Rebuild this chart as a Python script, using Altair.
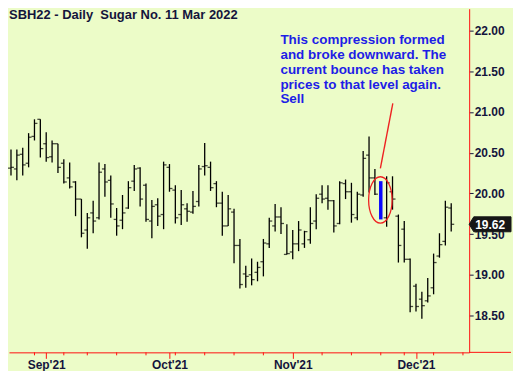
import altair as alt
import pandas as pd

# ---- data ----
# trading days from Aug 24 2021 to Dec 9 2021, one bar per day
opens = [20.31,20.30,20.48,20.37,20.70,20.91,20.61,20.45,20.61,20.37,
         20.19,20.14,19.93,19.55,19.76,19.70,20.30,20.16,19.68,19.67,
         19.82,20.15,20.31,20.10,19.66,19.86,19.74,20.32,20.04,19.74,
         19.81,19.77,19.90,20.33,20.32,20.12,19.88,19.60,19.77,19.36,
         19.01,19.00,19.03,19.16,19.38,19.60,19.71,19.25,19.28,19.38,
         19.38,19.43,19.66,19.99,19.94,19.91,19.63,20.12,20.02,19.70,
         19.98,20.47,20.19,20.00,19.70,20.02,19.72,19.56,19.19,18.86,
         18.70,18.68,18.84,19.23,19.41,19.82]
highs = [20.54,20.54,20.56,20.74,20.91,20.91,20.75,20.65,20.61,20.42,
         20.38,20.15,19.93,19.76,19.91,20.38,20.36,20.22,19.82,19.98,
         20.15,20.35,20.32,20.12,19.92,19.94,20.39,20.36,20.10,20.04,
         19.88,20.03,20.35,20.62,20.39,20.15,20.02,19.98,19.81,19.44,
         19.11,19.20,19.16,19.44,19.70,19.87,19.83,19.62,19.55,19.66,
         19.54,19.83,19.99,20.10,20.10,19.92,20.15,20.17,20.13,20.02,
         20.52,20.70,20.30,20.15,20.21,20.21,19.74,19.66,19.20,18.89,
         18.79,18.96,19.26,19.51,19.91,19.88]
lows = [20.22,20.16,20.22,20.32,20.65,20.44,20.39,20.38,20.25,20.12,
        20.06,19.72,19.46,19.32,19.51,19.68,19.96,19.70,19.48,19.56,
        19.81,20.03,19.84,19.65,19.45,19.60,19.56,20.02,19.63,19.61,
        19.65,19.75,19.84,20.22,20.03,19.83,19.48,19.60,19.14,18.83,
        18.84,18.87,18.92,18.98,19.33,19.53,19.50,19.25,19.19,19.29,
        19.33,19.38,19.56,19.88,19.80,19.52,19.62,19.93,19.64,19.67,
        19.96,20.01,19.98,19.68,19.59,19.80,19.15,19.15,18.54,18.55,
        18.46,18.66,18.76,19.21,19.36,19.53]
closes = [20.32,20.47,20.35,20.69,20.86,20.55,20.44,20.61,20.32,20.14,
          20.08,19.93,19.51,19.70,19.66,20.26,20.14,19.87,19.60,19.76,
          20.07,20.30,19.93,19.68,19.84,19.72,20.35,20.06,19.70,19.86,
          19.78,19.84,20.30,20.34,20.07,19.88,19.60,19.81,19.36,18.88,
          18.98,18.94,19.09,19.39,19.66,19.71,19.63,19.26,19.38,19.55,
          19.53,19.63,19.94,19.93,19.91,19.60,20.13,20.02,19.74,19.99,
          20.43,20.19,19.99,19.72,20.13,19.93,19.36,19.19,18.61,18.61,
          18.62,18.74,19.15,19.37,19.83,19.62]
highlight_bar = 63  # the compression bar drawn in blue

month_idx = [6, 27, 48, 69]
month_labels = ["Sep'21", "Oct'21", "Nov'21", "Dec'21"]
week_idx = [4, 9, 13, 18, 23, 28, 33, 38, 43, 53, 58, 63, 67, 72, 77]
price_ticks = [18.5, 19.0, 19.5, 20.0, 20.5, 21.0, 21.5, 22.0]
last_price = 19.62

title_text = "SBH22 - Daily\u00a0 Sugar No. 11 Mar 2022"
note_lines = ["This compression formed", "and broke downward. The",
              "current bounce has taken", "prices to that level again.", "Sell"]
note_pos = [45.9, 21.83]
pointer = [65.05, 21.106, 62.93, 20.307]
ellipse_center = [62.93, 19.919]

# ---- layout ----
W, H = 462, 345
BG = "#ecfcc8"
NAVY = "#14143c"
RED = "#ff1010"
FONT = "Liberation Sans"

df = pd.DataFrame({"i": list(range(len(opens))), "open": opens, "high": highs,
                   "low": lows, "close": closes})
black = df[df["i"] != highlight_bar]
blue = df[df["i"] == highlight_bar]

xscale = alt.Scale(domain=[-0.34, 78.06], nice=False, zero=False)
yscale = alt.Scale(domain=[18.0465, 22.269], nice=False, zero=False)
label_expr = ("[" + ",".join('"%s"' % s for s in month_labels) + "][indexof(["
              + ",".join(str(v) for v in month_idx) + "], datum.value)]")
xaxis = alt.Axis(values=month_idx, labelExpr=label_expr, title=None, grid=False,
                 domainColor=RED, tickColor=RED, tickSize=6, labelPadding=1,
                 labelFlush=False, labelFont=FONT, labelFontWeight="bold",
                 labelFontSize=12, labelColor=NAVY)
yaxis = alt.Axis(values=price_ticks, format=".2f", orient="right", title=None,
                 grid=False, domainColor=RED, tickColor=NAVY, tickSize=4,
                 labelPadding=1, labelFont=FONT, labelFontWeight="bold",
                 labelFontSize=12, labelColor=NAVY)


def X(f):
    return alt.X(f, type="quantitative", scale=xscale, axis=xaxis)


def Y(f):
    return alt.Y(f, type="quantitative", scale=yscale, axis=yaxis)


bars = alt.Chart(black).mark_rule(color="black", strokeWidth=1.3).encode(
    x=X("i"), y=Y("low"), y2="high")
open_t = alt.Chart(black).mark_tick(orient="horizontal", size=3, thickness=1.3,
                                    color="black", xOffset=-1.5).encode(
    x=X("i"), y=Y("open"))
close_t = alt.Chart(black).mark_tick(orient="horizontal", size=3, thickness=1.3,
                                     color="black", xOffset=1.5).encode(
    x=X("i"), y=Y("close"))
blue_bar = alt.Chart(blue).mark_rule(color="#0a0aff", strokeWidth=3.5).encode(
    x=X("i"), y=Y("low"), y2="high")

minor = alt.Chart(pd.DataFrame({"w": week_idx})).mark_rule(
    color=RED, strokeWidth=1).encode(x=X("w"), y=alt.value(H), y2=alt.value(H + 3))
ext_axis = alt.Chart(pd.DataFrame({"a": [0]})).mark_rule(
    color=RED, strokeWidth=1).encode(x=alt.value(W), x2=alt.value(W + 42), y=alt.value(H))

ell_path = "M -0.506 0 A 0.506 1 0 1 0 0.506 0 A 0.506 1 0 1 0 -0.506 0 Z"
ellipse = alt.Chart(pd.DataFrame({"x": [ellipse_center[0]], "y": [ellipse_center[1]]})).mark_point(
    shape=ell_path, size=2172, filled=False, stroke="#ee2222", strokeWidth=1.3, opacity=1
).encode(x=X("x"), y=Y("y"))

line_df = pd.DataFrame({"x": [pointer[0]], "y": [pointer[1]],
                        "x2": [pointer[2]], "y2": [pointer[3]]})
pointer_line = alt.Chart(line_df).mark_rule(color="#ee2222", strokeWidth=1.4).encode(
    x=X("x"), y=Y("y"), x2="x2", y2="y2")

note = alt.Chart(pd.DataFrame({"x": [note_pos[0]], "y": [note_pos[1]],
                               "t": ["\n".join(note_lines)]})).mark_text(
    align="left", baseline="alphabetic", lineBreak="\n", lineHeight=14.8,
    font=FONT, fontWeight="bold", fontSize=13.5, color="#1e1ee6"
).encode(x=X("x"), y=Y("y"), text="t:N")

title = alt.Chart(pd.DataFrame({"t": [title_text]})).mark_text(
    align="left", baseline="top", font=FONT, fontWeight="bold", fontSize=13, color=NAVY
).encode(x=alt.value(0), y=alt.value(0), text="t:N")

box_path = "M -1 0 L -0.78 -0.357 L 1 -0.357 L 1 0.357 L -0.78 0.357 Z"
lp = pd.DataFrame({"p": [last_price], "t": ["%.2f" % last_price]})
price_box = alt.Chart(lp).mark_point(
    shape=box_path, size=1764, filled=True, fill="#161616", stroke="#161616",
    strokeWidth=1, opacity=1).encode(x=alt.value(W + 21), y=Y("p"))
price_txt = alt.Chart(lp).mark_text(
    align="center", baseline="middle", font=FONT, fontWeight="bold", fontSize=12,
    color="white", dy=0.5).encode(x=alt.value(W + 21), y=Y("p"), text="t:N")

chart = alt.layer(
    bars, open_t, close_t, blue_bar, minor, ext_axis, ellipse, pointer_line,
    note, title, price_box, price_txt
).properties(width=W, height=H, padding={"left": 0, "top": 0, "right": 0, "bottom": 0}
).configure(background=BG).configure_view(stroke=None)

chart.save("out.html", embed_options={"renderer": "svg", "actions": False})
